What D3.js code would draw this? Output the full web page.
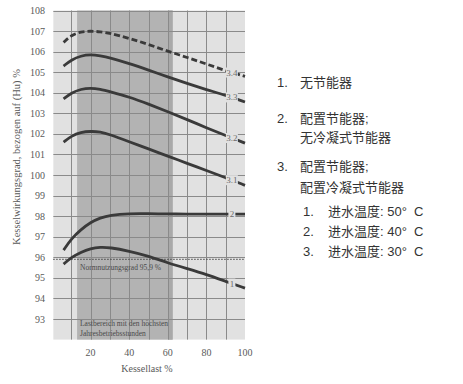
<!DOCTYPE html>
<html><head><meta charset="utf-8">
<script src="https://cdn.jsdelivr.net/npm/d3@7"></script>
<style>body{margin:0;background:#fff}svg{display:block}</style>
</head><body>
<svg id="c" width="463" height="384"></svg>
<script>
const loadX = [6, 10, 15, 20, 25, 30, 40, 50, 60, 70, 80, 90, 100];
const s34 = [106.45, 106.8, 106.97, 107.0, 106.97, 106.9, 106.65, 106.35, 106.02, 105.72, 105.4, 105.07, 104.8];
const s33 = [105.3, 105.6, 105.8, 105.86, 105.8, 105.7, 105.42, 105.1, 104.77, 104.45, 104.15, 103.88, 103.55];
const s32 = [103.7, 104.0, 104.18, 104.24, 104.17, 104.05, 103.8, 103.45, 103.08, 102.7, 102.3, 101.92, 101.55];
const s31 = [101.6, 101.9, 102.08, 102.13, 102.1, 101.97, 101.62, 101.27, 100.92, 100.57, 100.22, 99.87, 99.5];
const s2  = [96.35, 96.9, 97.35, 97.7, 97.92, 98.05, 98.13, 98.12, 98.11, 98.1, 98.1, 98.1, 98.1];
const s1  = [95.67, 96.0, 96.25, 96.43, 96.5, 96.48, 96.3, 96.06, 95.73, 95.45, 95.17, 94.83, 94.5];
const seriesNames = ["3.4", "3.3", "3.2", "3.1", "2", "1"];
const yTicks = [93, 94, 95, 96, 97, 98, 99, 100, 101, 102, 103, 104, 105, 106, 107, 108];
const xTicks = [20, 40, 60, 80, 100];
const normValue = 95.9;
const peakRange = [13, 62.5];
const legendItems = [
  {n: "1.", lines: ["无节能器"]},
  {n: "2.", lines: ["配置节能器;", "无冷凝式节能器"]},
  {n: "3.", lines: ["配置节能器;", "配置冷凝式节能器"]}
];
const subItems = [["1.", "进水温度: 50°  C"], ["2.", "进水温度: 40°  C"], ["3.", "进水温度: 30°  C"]];

const svg = d3.select("#c");
const x = d3.scaleLinear().domain([0, 100]).range([52, 245]);
const y = d3.scaleLinear().domain([92, 108]).range([339.6, 10.5]);
const serif = "'Liberation Serif', serif";

// backgrounds
svg.append("rect").attr("x", x(0.7)).attr("y", y(108)).attr("width", x(100) - x(0.7)).attr("height", y(92) - y(108)).attr("fill", "#e1e1e1");
svg.append("rect").attr("x", x(peakRange[0])).attr("y", y(108)).attr("width", x(peakRange[1]) - x(peakRange[0])).attr("height", y(92) - y(108)).attr("fill", "#b3b3b3");
svg.append("rect").attr("x", x(60.3)).attr("y", y(108)).attr("width", x(peakRange[1]) - x(60.3)).attr("height", y(92) - y(108)).attr("fill", "#a9a9a9");

// grid
const grid = svg.append("g").attr("stroke", "#8a8a8a").attr("stroke-width", 1);
grid.selectAll("line.v").data(d3.range(10, 100, 10)).join("line")
  .attr("x1", d => Math.round(x(d)) + 0.5).attr("x2", d => Math.round(x(d)) + 0.5)
  .attr("y1", y(108)).attr("y2", y(92));
grid.selectAll("line.h").data(yTicks).join("line")
  .attr("x1", x(0.7)).attr("x2", x(100))
  .attr("y1", d => Math.round(y(d)) + 0.5).attr("y2", d => Math.round(y(d)) + 0.5);

// norm dotted line
svg.append("line").attr("x1", x(0.7)).attr("x2", x(100)).attr("y1", y(normValue)).attr("y2", y(normValue))
  .attr("stroke", "#444").attr("stroke-width", 1.2).attr("stroke-dasharray", "1.2,1.8");

// text in shaded area
svg.append("text").attr("x", 80).attr("y", y(normValue) + 11).attr("font-family", serif).attr("font-size", 7.5).attr("fill", "#4a4a4a")
  .text("Normnutzungsgrad 95,9 %");
svg.append("text").attr("x", 80).attr("y", 326).attr("font-family", serif).attr("font-size", 7.5).attr("fill", "#4a4a4a")
  .text("Lastbereich mit den höchsten");
svg.append("text").attr("x", 80).attr("y", 335.5).attr("font-family", serif).attr("font-size", 7.5).attr("fill", "#4a4a4a")
  .text("Jahresbetriebsstunden");

// curves
const allSeries = [s34, s33, s32, s31, s2, s1];
const line = d3.line().x(d => x(d[0])).y(d => y(d[1])).curve(d3.curveBasis);
allSeries.forEach((s, i) => {
  const pts = loadX.map((v, j) => [v, s[j]]);
  svg.append("path").attr("d", line(pts)).attr("fill", "none").attr("stroke", "#3a3a3a")
    .attr("stroke-width", 2.8).attr("stroke-linecap", "butt")
    .attr("stroke-dasharray", i === 0 ? "6,3" : null);
});

// curve labels with background gap
const labelX = 93.2;
allSeries.forEach((s, i) => {
  const yv = d3.scaleLinear().domain(loadX).range(s)(labelX);
  const name = seriesNames[i];
  const w = name.length > 1 ? 12 : 7;
  svg.append("rect").attr("x", x(labelX) - w / 2).attr("y", y(yv) - 5).attr("width", w).attr("height", 10).attr("fill", "#e1e1e1");
  svg.append("text").attr("x", x(labelX)).attr("y", y(yv) + 3).attr("text-anchor", "middle")
    .attr("font-family", serif).attr("font-size", 9).attr("fill", "#6a6a6a").text(name);
});

// y axis labels
svg.selectAll("text.yt").data(yTicks).join("text")
  .attr("x", 45).attr("y", d => y(d) + 3.5).attr("text-anchor", "end")
  .attr("font-family", serif).attr("font-size", 10).attr("fill", "#5a5a5a").text(d => d);
// x axis labels
svg.selectAll("text.xt").data(xTicks).join("text")
  .attr("x", d => x(d)).attr("y", 356).attr("text-anchor", "middle")
  .attr("font-family", serif).attr("font-size", 10).attr("fill", "#5a5a5a").text(d => d);
svg.append("text").attr("x", 147).attr("y", 372).attr("text-anchor", "middle")
  .attr("font-family", serif).attr("font-size", 10).attr("fill", "#5a5a5a").text("Kessellast %");
svg.append("text").attr("transform", "translate(20,157) rotate(-90)").attr("text-anchor", "middle")
  .attr("font-family", serif).attr("font-size", 10.5).attr("fill", "#5a5a5a").text("Kesselwirkungsgrad, bezogen auf (Hu) %");

// legend
const lf = "'Liberation Sans', 'Noto Sans CJK SC', sans-serif";
const lg = svg.append("g").attr("font-family", lf).attr("font-size", 13).attr("fill", "#333");
const itemY = [[87], [123, 142], [171, 192]];
legendItems.forEach((it, i) => {
  lg.append("text").attr("x", 277).attr("y", itemY[i][0]).text(it.n);
  it.lines.forEach((t, k) => lg.append("text").attr("x", 300).attr("y", itemY[i][k]).text(t));
});
const subY = [216, 236, 256];
subItems.forEach((s, i) => {
  lg.append("text").attr("x", 303).attr("y", subY[i]).text(s[0]);
  lg.append("text").attr("x", 328).attr("y", subY[i]).attr("xml:space", "preserve").style("white-space", "pre").text(s[1]);
});
</script>
</body></html>
